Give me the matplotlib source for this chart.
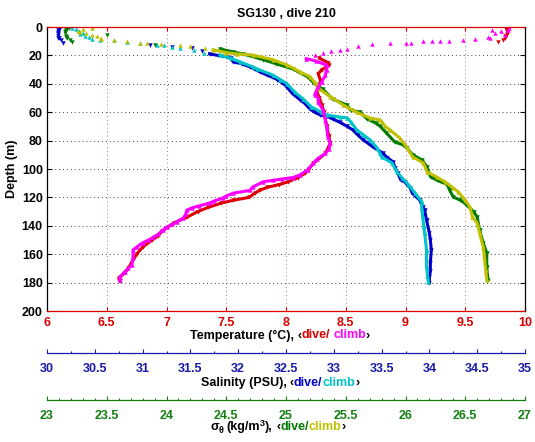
import matplotlib
matplotlib.use('Agg')
import matplotlib.pyplot as plt
from matplotlib.ticker import MultipleLocator
from matplotlib.transforms import IdentityTransform

plt.rcParams['font.family'] = ['Liberation Sans', 'DejaVu Sans']
plt.rcParams['font.weight'] = 'bold'

# ---------------- data ----------------
# Temperature, dive (red)
temp_dive_surf_depth = [0.5, 1.5, 2, 3, 3.5, 5, 6, 6.5, 8, 9, 10.5]
temp_dive_surf_T = [9.85, 9.84, 9.86, 9.86, 9.85, 9.85, 9.83, 9.84, 9.83, 9.82, 9.77]
temp_dive_depth = [22, 25, 27, 30, 33, 38, 42, 46, 50, 55, 60, 65, 70, 77, 82, 89, 96, 100,
                   103, 106, 109, 111, 113, 115, 117, 120, 122, 124, 127, 130, 134, 138, 141,
                   144, 147, 150, 155, 160, 164, 170, 173, 177, 179]
temp_dive_T = [8.28, 8.35, 8.36, 8.30, 8.27, 8.29, 8.27, 8.26, 8.28, 8.30, 8.32, 8.33, 8.34,
               8.36, 8.37, 8.33, 8.23, 8.19, 8.16, 8.10, 8.02, 7.94, 7.84, 7.78, 7.74, 7.69,
               7.56, 7.46, 7.35, 7.26, 7.17, 7.06, 7.01, 6.96, 6.93, 6.88, 6.80, 6.75, 6.72,
               6.68, 6.65, 6.60, 6.61]

# Temperature, climb (magenta)
temp_climb_surf_depth = [0.9, 2, 2.1, 3, 4.3, 5.6, 6.8, 7.9, 8.7, 9.2, 9.6, 9.6, 10, 10,
                         11, 11, 11.5, 12.2, 13.4, 15.3, 16.2, 16.9, 18, 19.7]
temp_climb_surf_T = [9.87, 9.72, 9.86, 9.80, 9.75, 9.83, 9.69, 9.71, 9.58, 9.48, 9.36, 9.29,
                     9.22, 9.15, 9.05, 9.00, 8.87, 8.72, 8.60, 8.51, 8.45, 8.38, 8.31, 8.24]
temp_climb_depth = [22.3, 24, 26.8, 30, 33.8, 38.7, 42, 45.8, 48, 50, 53, 58.5, 65.5, 70,
                    77.5, 82, 86, 89, 93, 96, 100.7, 104, 106, 107, 108, 109, 112.7, 115,
                    117, 119, 120.5, 122.5, 124, 126, 127.5, 129, 132, 134.6, 137, 139, 141,
                    143, 146, 148, 150, 152, 155, 157, 162, 167.6, 170, 172.5, 176, 178.5]
temp_climb_T = [8.17, 8.25, 8.34, 8.34, 8.33, 8.30, 8.27, 8.25, 8.24, 8.27, 8.27, 8.31, 8.33,
                8.34, 8.35, 8.37, 8.36, 8.33, 8.26, 8.23, 8.18, 8.12, 8.06, 7.97, 7.89, 7.81,
                7.72, 7.70, 7.56, 7.50, 7.47, 7.40, 7.36, 7.27, 7.21, 7.17, 7.16, 7.14, 7.09,
                7.05, 7.00, 6.97, 6.93, 6.89, 6.85, 6.80, 6.75, 6.72, 6.72, 6.71, 6.68, 6.65,
                6.61, 6.61]

# Salinity, dive (blue)
sal_dive_surf_depth = [0.5, 1.5, 2, 3.5, 4.5, 5, 6.5, 7.5, 8, 9.5, 11, 12.7, 14, 14.8, 17]
sal_dive_surf_S = [30.14, 30.13, 30.12, 30.11, 30.12, 30.11, 30.12, 30.12, 30.13, 30.15,
                   30.17, 31.08, 31.31, 31.52, 31.62]
sal_dive_depth = [19, 21, 22, 24.6, 26, 28, 31.7, 33.8, 37, 40.8, 44, 47, 51.4, 54, 57.7, 60,
                  62, 63, 64.8, 67, 70, 72.5, 76, 79.6, 82, 84.5, 88.7, 92, 95, 99, 103,
                  107.7, 109, 113.4, 117, 122, 126.8, 129, 136, 145, 150, 157, 166, 172, 176,
                  180]
sal_dive_S = [31.70, 31.88, 31.92, 31.95, 32.04, 32.12, 32.23, 32.30, 32.41, 32.49, 32.53,
              32.57, 32.65, 32.70, 32.75, 32.80, 32.86, 32.93, 32.99, 33.06, 33.14, 33.20,
              33.25, 33.31, 33.36, 33.41, 33.51, 33.56, 33.62, 33.64, 33.67, 33.70, 33.74,
              33.80, 33.82, 33.90, 33.93, 33.95, 33.97, 34.00, 34.01, 34.02, 34.01, 34.01,
              34.00, 34.00]

# Salinity, climb (cyan)
sal_climb_surf_depth = [0.5, 1.5, 3, 4.5, 5, 6, 7, 8.5, 9, 9.5, 10.6, 11, 12.7, 12.7, 14,
                        14.8, 16, 18]
sal_climb_surf_S = [30.26, 30.30, 30.33, 30.38, 30.34, 30.40, 30.44, 30.47, 30.55, 30.70,
                    30.84, 30.97, 31.15, 31.22, 31.31, 31.39, 31.54, 31.64]
sal_climb_depth = [19.7, 22, 24.6, 28, 29.6, 33.8, 37, 40, 45.8, 50.7, 56, 60, 62, 63.4, 64,
                   67, 72.5, 76, 79.6, 85, 88.7, 91.5, 95.8, 102, 106, 111, 117, 123, 128,
                   133.8, 140, 145, 157, 169, 175, 179.6]
sal_climb_S = [31.81, 31.92, 32.02, 32.15, 32.20, 32.36, 32.44, 32.51, 32.59, 32.68, 32.76,
               32.87, 32.93, 33.06, 33.14, 33.18, 33.24, 33.31, 33.38, 33.45, 33.48, 33.50,
               33.61, 33.66, 33.71, 33.78, 33.85, 33.92, 33.92, 33.93, 33.94, 33.95, 33.97,
               33.97, 33.98, 33.99]

# Potential density, dive (green)
sig_dive_surf_depth = [0.5, 1.5, 2, 3, 4, 5.6, 6, 7, 8, 9.5, 10.6, 12.7]
sig_dive_surf_s = [23.18, 23.17, 23.16, 23.15, 23.15, 23.50, 23.16, 23.16, 23.17, 23.19,
                   23.21, 23.90]
sig_dive_depth = [15.5, 17.6, 19, 23, 26, 29.6, 35, 40, 44, 50.7, 55, 58.5, 60, 64.8, 67.6,
                  70, 74.6, 81, 83, 85, 90, 93.7, 98.6, 105.6, 107.7, 111, 115, 119.7, 122,
                  125, 130, 133.8, 143, 152, 159, 169, 178]
sig_dive_s = [24.45, 24.56, 24.64, 24.81, 24.92, 25.06, 25.18, 25.24, 25.31, 25.39, 25.51,
              25.54, 25.62, 25.68, 25.75, 25.79, 25.84, 25.91, 25.98, 26.01, 26.06, 26.14,
              26.18, 26.21, 26.26, 26.35, 26.37, 26.40, 26.46, 26.51, 26.57, 26.60, 26.62,
              26.65, 26.68, 26.68, 26.69]

# Potential density, climb (olive)
sig_climb_surf_depth = [0.7, 1.5, 2.5, 3.5, 4.5, 5.5, 6.5, 7.5, 8.5, 9, 10, 11, 11.5, 12,
                        12.7, 13.4, 14.8]
sig_climb_surf_s = [23.38, 23.30, 23.26, 23.28, 23.33, 23.38, 23.42, 23.45, 23.45, 23.56,
                    23.67, 23.78, 23.84, 23.95, 24.11, 24.20, 24.32]
sig_climb_depth = [16, 18, 19, 19.7, 23, 26.8, 31.7, 35, 39, 43.7, 49, 55, 60, 64, 65.5, 70,
                   72.5, 78, 84.5, 91.5, 95.8, 102, 105.6, 109, 113.4, 116, 122, 126.8,
                   133.8, 138, 145, 155, 162, 171, 178]
sig_climb_s = [24.39, 24.50, 24.59, 24.72, 24.89, 25.01, 25.12, 25.20, 25.24, 25.28, 25.37,
               25.48, 25.59, 25.70, 25.79, 25.83, 25.87, 25.95, 26.01, 26.06, 26.15, 26.18,
               26.26, 26.33, 26.40, 26.44, 26.50, 26.54, 26.56, 26.60, 26.62, 26.65, 26.66,
               26.67, 26.68]

temp_ticks = [6, 6.5, 7, 7.5, 8, 8.5, 9, 9.5, 10]
sal_ticks = [30, 30.5, 31, 31.5, 32, 32.5, 33, 33.5, 34, 34.5, 35]
sig_ticks = [23, 23.5, 24, 24.5, 25, 25.5, 26, 26.5, 27]
depth_ticks = [0, 20, 40, 60, 80, 100, 120, 140, 160, 180, 200]

# ---------------- style ----------------
C_RED = '#dd0000'
C_MAG = '#ff00ff'
C_BLUE = '#0000cc'
C_CYAN = '#00c4c8'
C_GREEN = '#007a00'
C_OLIVE = '#c0c000'
C_SAL_AX = '#1a1aa8'
C_SIG_AX = '#108010'

W, H = 535, 442
fig = plt.figure(figsize=(W / 100, H / 100), dpi=100)


def fx(px):
    return px / W


def fy(py):
    return 1 - py / H


L, R, T, B = 47, 525, 27, 311
ax = fig.add_axes([fx(L), fy(B), fx(R - L), (B - T) / H])

t_lo, t_hi = temp_ticks[0], temp_ticks[-1]
s_lo, s_hi = sal_ticks[0], sal_ticks[-1]
g_lo, g_hi = sig_ticks[0], sig_ticks[-1]


def s2t(vals):
    return [t_lo + (v - s_lo) * (t_hi - t_lo) / (s_hi - s_lo) for v in vals]


def g2t(vals):
    return [t_lo + (v - g_lo) * (t_hi - t_lo) / (g_hi - g_lo) for v in vals]


LW = 2.2
MS = 3.2


def plot_series(xs_surf, d_surf, xs, d, color, marker):
    ax.plot(xs_surf, d_surf, linestyle='none', marker=marker, ms=MS, color=color, mew=0)
    ax.plot(xs, d, linestyle='-', lw=LW, color=color, marker=marker, ms=MS, mew=0,
            solid_joinstyle='round')


plot_series(s2t(sal_dive_surf_S), sal_dive_surf_depth, s2t(sal_dive_S), sal_dive_depth,
            C_BLUE, 'v')
plot_series(g2t(sig_dive_surf_s), sig_dive_surf_depth, g2t(sig_dive_s), sig_dive_depth,
            C_GREEN, 'v')
plot_series(temp_dive_surf_T, temp_dive_surf_depth, temp_dive_T, temp_dive_depth, C_RED, 'v')
plot_series(s2t(sal_climb_surf_S), sal_climb_surf_depth, s2t(sal_climb_S), sal_climb_depth,
            C_CYAN, '^')
plot_series(g2t(sig_climb_surf_s), sig_climb_surf_depth, g2t(sig_climb_s), sig_climb_depth,
            C_OLIVE, '^')
plot_series(temp_climb_surf_T, temp_climb_surf_depth, temp_climb_T, temp_climb_depth,
            C_MAG, '^')

FS = 9
ax.set_xlim(t_lo, t_hi)
ax.set_ylim(depth_ticks[-1], depth_ticks[0])
ax.set_xticks(temp_ticks)
ax.set_xticklabels([f'{v:g}' for v in temp_ticks])
ax.set_yticks(depth_ticks)
ax.tick_params(axis='x', which='both', direction='in', top=True, bottom=True, length=3,
               width=0.8, color=C_RED, labelcolor=C_RED, labelsize=FS, pad=4.5)
ax.tick_params(axis='y', which='both', direction='in', left=True, right=True, length=3.5,
               width=0.8, color='black', labelsize=FS, pad=3)
for lab in ax.get_xticklabels() + ax.get_yticklabels():
    lab.set_fontweight('bold')
for sp in ('top', 'bottom'):
    ax.spines[sp].set_color(C_RED)
    ax.spines[sp].set_linewidth(0.9)
for sp in ('left', 'right'):
    ax.spines[sp].set_color('black')
    ax.spines[sp].set_linewidth(0.9)
ax.grid(axis='x', color='#c07070', linestyle=(0, (1, 3)), linewidth=0.7)
ax.grid(axis='y', color='#404040', linestyle=(0, (1, 3)), linewidth=0.7)
ax.set_axisbelow(True)
ax.set_ylabel('Depth (m)', fontsize=FS, fontweight='bold', labelpad=3)
ax.set_title('SG130 , dive 210', fontsize=FS, fontweight='bold', pad=7)


def extra_axis(ypx, lo, hi, ticks, minor, color, pad):
    a = fig.add_axes([fx(L), fy(ypx), fx(R - L), 1e-5])
    a.patch.set_visible(False)
    for sp in ('top', 'left', 'right'):
        a.spines[sp].set_visible(False)
    a.spines['bottom'].set_color(color)
    a.spines['bottom'].set_linewidth(0.9)
    a.set_xlim(lo, hi)
    a.set_yticks([])
    a.set_xticks(ticks)
    a.set_xticklabels([f'{v:g}' for v in ticks])
    a.xaxis.set_minor_locator(MultipleLocator(minor))
    a.tick_params(axis='x', which='major', direction='in', length=3.2, width=0.8,
                  color=color, labelcolor=color, labelsize=FS, pad=pad)
    a.tick_params(axis='x', which='minor', direction='in', length=1.8, width=0.8,
                  color=color)
    for lab in a.get_xticklabels():
        lab.set_fontweight('bold')
    return a


extra_axis(353, s_lo, s_hi, sal_ticks, 0.25, C_SAL_AX, 7.0)
extra_axis(400, g_lo, g_hi, sig_ticks, 0.1, C_SIG_AX, 7.0)


def label_row(parts, xc, ybase):
    """parts: (text, color, fontsize, dy_px, gap_px)"""
    texts = []
    for s, c, fs, dy, gap in parts:
        t = fig.text(0, 0, s, color=c, fontsize=fs, fontweight='bold', ha='left',
                     va='baseline', transform=IdentityTransform())
        texts.append(t)
    fig.canvas.draw()
    r = fig.canvas.get_renderer()
    widths = [t.get_window_extent(r).width for t in texts]
    total = sum(widths) + sum(p[4] for p in parts)
    x = xc - total / 2
    for t, w, p in zip(texts, widths, parts):
        x += p[4]
        t.set_position((x, H - ybase + p[3]))
        x += w


SP = 3.2
label_row([('Temperature (°C),', 'black', FS, 0, 0),
           ('‹', 'black', FS, 0, SP),
           ('dive/', C_RED, FS, 0, 0),
           ('climb', C_MAG, FS, 0, SP),
           ('›', 'black', FS, 0, 0)], 280, 338.5)
label_row([('Salinity (PSU),', 'black', FS, 0, 0),
           ('‹', 'black', FS, 0, SP),
           ('dive/', C_BLUE, FS, 0, 0),
           ('climb', C_CYAN, FS, 0, 0),
           ('›', 'black', FS, 0, 0)], 280, 386)
label_row([('σ', 'black', FS, 0, 0),
           ('θ', 'black', 6.5, -3, 0),
           ('(kg/m', 'black', FS, 0, SP),
           ('3', 'black', 6.5, 4, 0),
           ('),', 'black', FS, 0, 0),
           ('‹', 'black', FS, 0, SP),
           ('dive/', C_GREEN, FS, 0, 0),
           ('climb', C_OLIVE, FS, 0, 0),
           ('›', 'black', FS, 0, 0)], 278, 430)

fig.savefig('out.png', dpi=100)
